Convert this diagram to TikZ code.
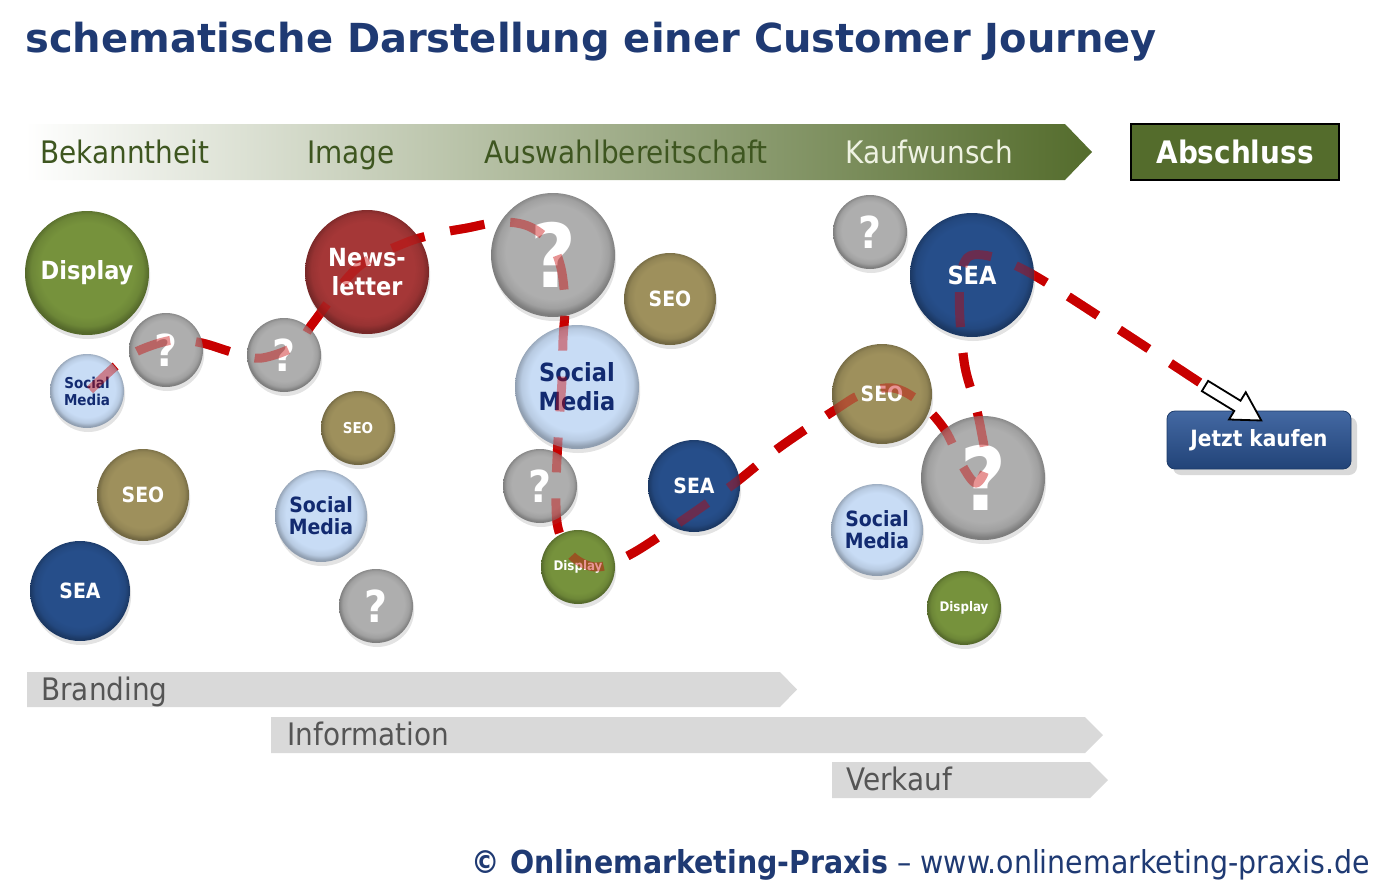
\documentclass[tikz,border=0pt]{standalone}
\usepackage{fontspec}
\setmainfont{DejaVu Sans}
\newfontfamily\condfont{DejaVu Sans Condensed}
\usetikzlibrary{shadows}

\definecolor{dispgreen}{RGB}{118,146,60}
\definecolor{newsred}{RGB}{165,55,55}
\definecolor{qgray}{RGB}{174,174,174}
\definecolor{seoolive}{RGB}{158,144,92}
\definecolor{socblue}{RGB}{200,220,245}
\definecolor{seablue}{RGB}{38,78,138}
\definecolor{soctext}{RGB}{18,42,112}
\definecolor{pathred}{RGB}{200,0,0}
\definecolor{titleblue}{RGB}{31,58,115}
\definecolor{bandgreen}{RGB}{84,108,44}
\definecolor{bandmid}{RGB}{172,188,138}
\definecolor{bandtext}{RGB}{62,86,32}
\definecolor{bargray}{RGB}{217,217,217}
\definecolor{bartext}{RGB}{85,85,85}
\definecolor{buyblue}{RGB}{42,84,150}

\colorlet{bubin}{gray}
\colorlet{bubmid}{gray}
\colorlet{bubout}{black}
\pgfdeclareradialshading[bubin,bubmid,bubout]{bubble}{\pgfpoint{0bp}{2bp}}{%
  color(0bp)=(bubin); color(19bp)=(bubin); color(22.5bp)=(bubmid);
  color(25bp)=(bubout); color(50bp)=(bubout)}

\tikzset{
  bubble/.style={circle, shade, shading=bubble, inner sep=0pt, align=center,
    text=white, drop shadow={opacity=0.22, shadow xshift=0.6pt, shadow yshift=-2pt},
    /utils/exec={\colorlet{bubin}{#1}\colorlet{bubmid}{#1!92!black}\colorlet{bubout}{#1!72!black}}},
  xl/.style={minimum size=62pt},
  lg/.style={minimum size=50pt},
  md/.style={minimum size=46pt},
  sm/.style={minimum size=37pt},
  txl/.style={font=\condfont\bfseries\fontsize{12.5}{14.5}\selectfont},
  tmd/.style={font=\condfont\bfseries\fontsize{10.5}{11}\selectfont},
  tsm/.style={font=\condfont\bfseries\fontsize{7.5}{8.5}\selectfont},
  ttiny/.style={font=\condfont\bfseries\fontsize{6.6}{7}\selectfont},
  qbig/.style={font=\condfont\bfseries\fontsize{44}{44}\selectfont},
  qsmall/.style={font=\condfont\bfseries\fontsize{22}{22}\selectfont},
  soc/.style={bubble=socblue, text=soctext},
  journey/.style={draw=pathred, line width=4.5pt, dash pattern=on 17.5pt off 13pt},
  bandlabel/.style={anchor=base, inner sep=0pt, text=bandtext,
    font=\condfont\fontsize{15.5}{16}\selectfont},
  barlabel/.style={anchor=base west, inner sep=0pt, text=bartext,
    font=\condfont\fontsize{15.5}{16}\selectfont},
}

\def\journey{plot[smooth, tension=0.55] coordinates {(90,390) (118,364) (140,350)
  (173,340) (202,343) (235,353) (262,358) (297,345) (313,323) (357,268) (405,243)
  (440,233) (467,228) (500,222) (528,226) (550,242) (561,268) (565,305) (563,340)
  (562,380) (558,440) (556,490) (558,528) (572,556) (598,567) (633,553) (683,520)
  (735,483) (780,447) (835,410) (862,394) (893,388) (920,402) (945,430) (962,465)
  (976,483) (986,465) (981,430) (975,403) (965,367) (960,320) (960,280) (967,258)
  (983,255) (1010,263) (1047,283) (1126,334) (1205,386)}}

\begin{document}
\begin{tikzpicture}[x=0.5pt, y=-0.5pt]
	\useasboundingbox (0,0) rectangle (1389,895);

	%title
	\node[anchor=base west, inner sep=0pt, text=titleblue,
	  font=\bfseries\fontsize{20}{24}\selectfont] (title) at (25,52)
	  {schematische Darstellung einer Customer Journey};

	%phases
	\shade[left color=white, middle color=bandmid, right color=bandgreen]
	  (25,124) -- (1065,124) -- (1092,152) -- (1065,180) -- (25,180) -- cycle;
	\node[bandlabel] (bekannt) at (125,163) {Bekanntheit};
	\node[bandlabel] (image) at (351,163) {Image};
	\node[bandlabel] (auswahl) at (626,163) {Auswahlbereitschaft};
	\node[bandlabel, text={rgb,255:red,238;green,242;blue,226}] (kauf) at (929,163) {Kaufwunsch};
	\node[draw=black, line width=1pt, fill=bandgreen, minimum width=104pt,
	  minimum height=28pt, text=white, font=\condfont\bfseries\fontsize{15.5}{16}\selectfont]
	  (abschluss) at (1235,152) {Abschluss};

	%goals
	\fill[bargray] (27,672) -- (780,672) -- (797,689.5) -- (780,707) -- (27,707) -- cycle;
	\fill[bargray] (271,717) -- (1085,717) -- (1103,735) -- (1085,753) -- (271,753) -- cycle;
	\fill[bargray] (832,762) -- (1090,762) -- (1108,780) -- (1090,798) -- (832,798) -- cycle;
	\node[barlabel] (branding) at (41,700) {Branding};
	\node[barlabel] (info) at (287,745) {Information};
	\node[barlabel] (verkauf) at (846,790) {Verkauf};

	%journey, below the touchpoints
	\coordinate (arrtail) at (1205,386);
	\draw[journey] \journey;

	%touchpoints
	\node[bubble=dispgreen, xl, txl] (dispA) at (87,273) {Display};
	\node[bubble=qgray, sm, qsmall] (qA) at (166,350) {?};
	\node[soc, sm, tsm] (socA) at (87,391) {Social\\Media};
	\node[bubble=qgray, sm, qsmall] (qB) at (284,355) {?};
	\node[bubble=newsred, xl, txl] (news) at (367,272) {News-\\letter};
	\node[bubble=qgray, xl, qbig] (qC) at (553,255) {?};
	\node[bubble=seoolive, md, tmd] (seoA) at (670,299) {SEO};
	\node[soc, xl, txl] (socB) at (577,387) {Social\\Media};
	\node[bubble=seoolive, sm, tsm] (seoB) at (358,428) {SEO};
	\node[bubble=seoolive, md, tmd] (seoC) at (143,495) {SEO};
	\node[bubble=seablue, lg, tmd] (seaA) at (80,591) {SEA};
	\node[soc, md, tmd] (socC) at (321,516) {Social\\Media};
	\node[bubble=qgray, sm, qsmall] (qD) at (376,606) {?};
	\node[bubble=qgray, sm, qsmall] (qE) at (540,486) {?};
	\node[bubble=dispgreen, sm, ttiny] (dispB) at (578,567) {Display};
	\node[bubble=seablue, md, tmd] (seaB) at (694,486) {SEA};
	\node[bubble=qgray, sm, qsmall] (qF) at (870,232) {?};
	\node[bubble=seablue, xl, txl] (seaC) at (972,275) {SEA};
	\node[bubble=seoolive, lg, tmd] (seoD) at (882,394) {SEO};
	\node[bubble=qgray, xl, qbig] (qG) at (983,478) {?};
	\node[soc, md, tmd] (socD) at (877,530) {Social\\Media};
	\node[bubble=dispgreen, sm, ttiny] (dispC) at (964,608) {Display};

	%journey again, seen through the touchpoints
	\draw[journey, opacity=0.42] \journey;

	%purchase
	\node[rounded corners=4pt, top color=buyblue!88!white, bottom color=buyblue!80!black,
	  draw=buyblue!70!black, minimum width=92pt, minimum height=29pt, text=white,
	  font=\condfont\bfseries\fontsize{11.2}{12}\selectfont,
	  drop shadow={opacity=0.3, shadow xshift=3pt, shadow yshift=-3pt}]
	  (buy) at (1259,440) {Jetzt kaufen};
	\draw[fill=white, line width=0.9pt, line join=miter, shift={(arrtail)}, rotate=-31.5]
	  (0,-6) -- (38,-6) -- (38,-16) -- (66,0) -- (38,16) -- (38,6) -- (0,6) -- cycle;

	%source
	\node[anchor=base east, inner sep=0pt, text=titleblue,
	  font=\condfont\fontsize{15.8}{17}\selectfont] (footer) at (1370,873)
	  {{\bfseries © Onlinemarketing-Praxis} – www.onlinemarketing-praxis.de};
\end{tikzpicture}
\end{document}
